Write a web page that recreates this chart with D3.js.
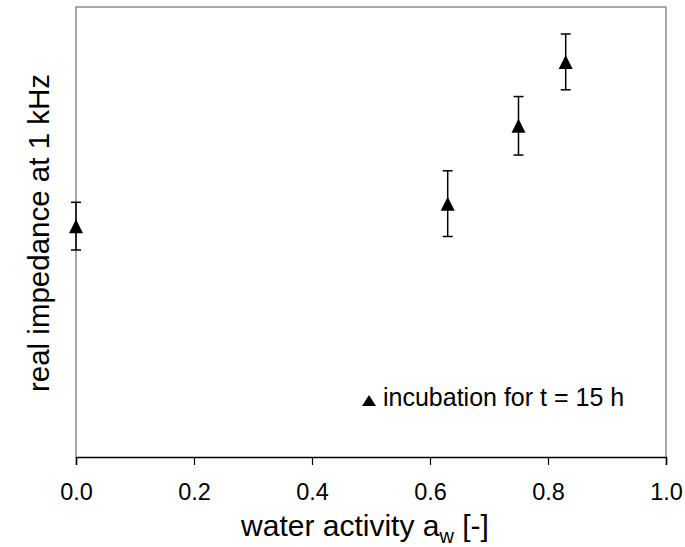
<!DOCTYPE html>
<html>
<head>
<meta charset="UTF-8">
<script src="https://cdn.jsdelivr.net/npm/d3@7"></script>
<style>
  body { margin: 0; background: #fff; }
  text { font-family: Arial, "Liberation Sans", sans-serif; fill: #000; }
</style>
</head>
<body>
<script>
var waterActivity = [0.0, 0.63, 0.75, 0.83]
var impedance = [51.3, 56.3, 73.6, 87.8]   // arbitrary units, axis has no scale
var errors = [5.3, 7.3, 6.5, 6.2]
var xTicks = [0.0, 0.2, 0.4, 0.6, 0.8, 1.0]
var legendLabel = 'incubation for t = 15 h'

var width = 685, height = 547
var margin = {top: 7, right: 19, bottom: 90, left: 76}

var svg = d3.select('body').append('svg')
  .attr('width', width).attr('height', height)

var x = d3.scaleLinear().domain([0, 1]).range([margin.left, width - margin.right])
var y = d3.scaleLinear().domain([0, 100]).range([height - margin.bottom, margin.top])

// frame (grey left / top / right)
svg.append('path')
  .attr('d', 'M' + x(0) + ',' + y(0) + 'V' + y(100) + 'H' + x(1) + 'V' + y(0))
  .attr('fill', 'none').attr('stroke', '#8c8c8c').attr('stroke-width', 1.5)

// x axis
var xAxis = svg.append('g')
  .attr('transform', 'translate(0,' + y(0) + ')')
  .call(d3.axisBottom(x).tickValues(xTicks).tickFormat(d3.format('.1f')).tickSize(8).tickPadding(18))
xAxis.select('.domain').attr('stroke', '#000').attr('stroke-width', 1.5)
xAxis.selectAll('.tick line').attr('stroke', '#000').attr('stroke-width', 1.2)
xAxis.selectAll('text').style('font-size', '23.5px').attr('fill', '#000')

// error bars
var pts = waterActivity.map(function(d, i) { return {x: d, y: impedance[i], e: errors[i]} })
var eb = svg.append('g').selectAll('g').data(pts).enter().append('g')
  .attr('stroke', '#000').attr('stroke-width', 1.5)
eb.append('line')
  .attr('x1', function(d) { return x(d.x) }).attr('x2', function(d) { return x(d.x) })
  .attr('y1', function(d) { return y(d.y - d.e) }).attr('y2', function(d) { return y(d.y + d.e) })
eb.append('line')
  .attr('x1', function(d) { return x(d.x) - 5 }).attr('x2', function(d) { return x(d.x) + 5 })
  .attr('y1', function(d) { return y(d.y + d.e) }).attr('y2', function(d) { return y(d.y + d.e) })
eb.append('line')
  .attr('x1', function(d) { return x(d.x) - 5 }).attr('x2', function(d) { return x(d.x) + 5 })
  .attr('y1', function(d) { return y(d.y - d.e) }).attr('y2', function(d) { return y(d.y - d.e) })

// triangle markers
var tri = 'M0,-7L7,7L-7,7Z'
svg.append('g').selectAll('path').data(pts).enter().append('path')
  .attr('d', tri)
  .attr('transform', function(d) { return 'translate(' + x(d.x) + ',' + y(d.y) + ')' })
  .attr('fill', '#000')

// legend
var lg = svg.append('g').attr('transform', 'translate(369,406)')
lg.append('path').attr('d', 'M0,-11L7,0L-7,0Z').attr('fill', '#000')
lg.append('text').attr('x', 14).attr('y', 0).style('font-size', '25px').text(legendLabel)

// axis titles
var xt = svg.append('text')
  .attr('x', (x(0) + x(1)) / 2 - 6).attr('y', 536)
  .attr('text-anchor', 'middle').style('font-size', '30px')
xt.append('tspan').text('water activity a')
xt.append('tspan').attr('dy', 7).style('font-size', '20px').text('w')
xt.append('tspan').attr('dy', -7).text(' [-]')

svg.append('text')
  .attr('transform', 'translate(49,' + 233 + ') rotate(-90)')
  .attr('text-anchor', 'middle').style('font-size', '29.5px')
  .text('real impedance at 1 kHz')
</script>
</body>
</html>
